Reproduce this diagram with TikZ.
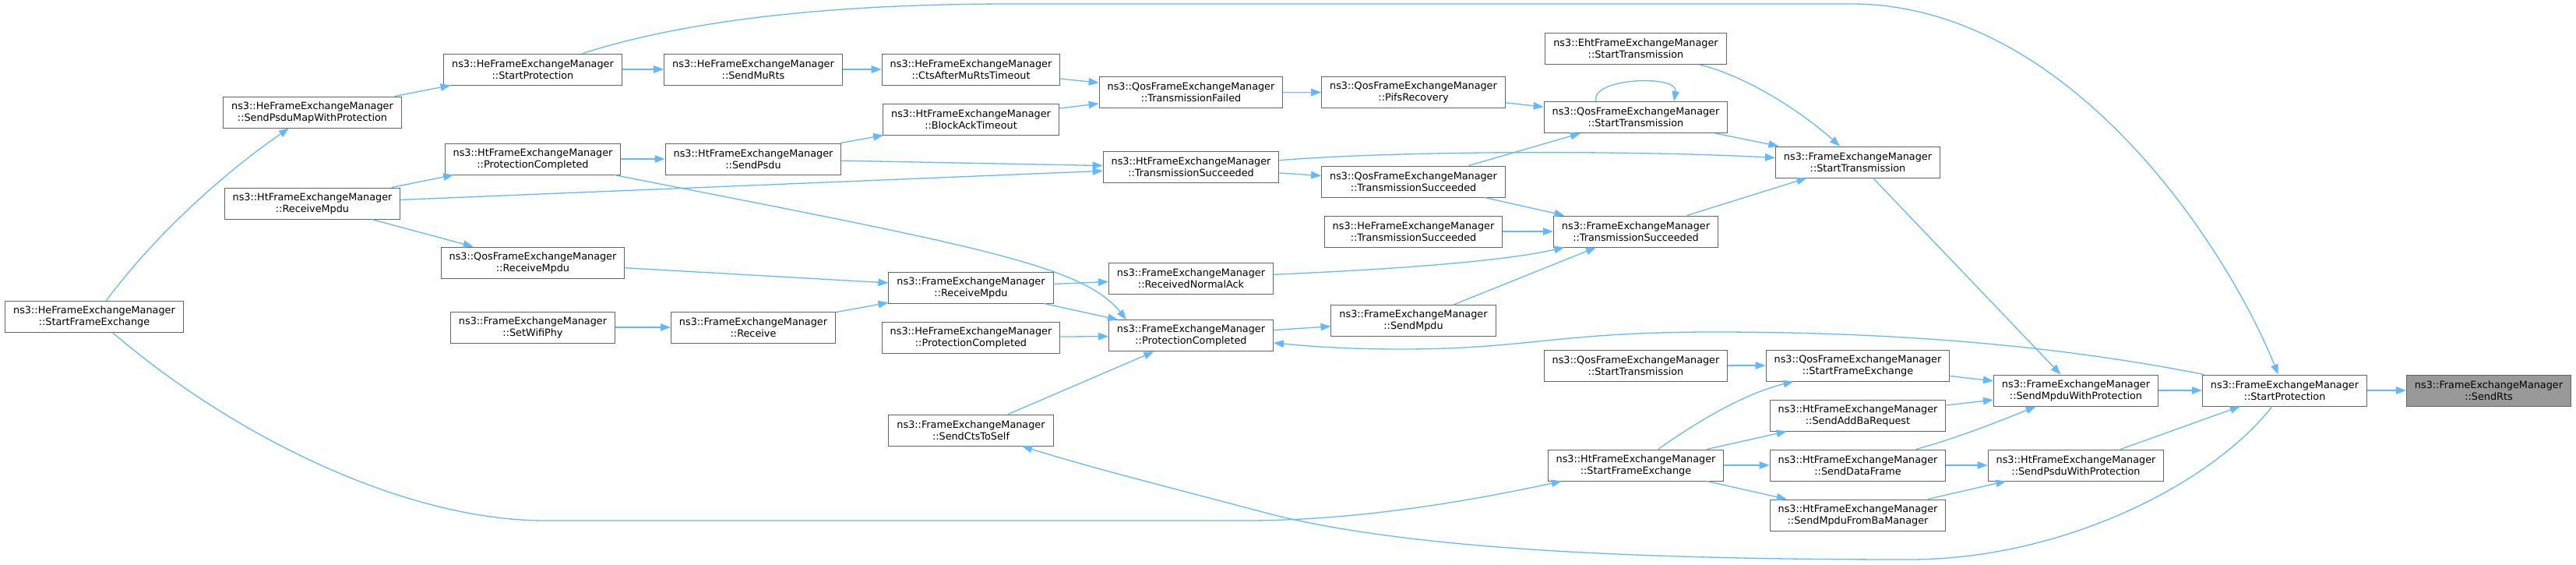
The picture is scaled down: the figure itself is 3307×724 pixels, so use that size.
\documentclass[tikz,border=0pt]{standalone}
\usepackage{fontspec}
\usepackage{xcolor}
\usetikzlibrary{arrows.meta}
\newfontfamily\dejavu{DejaVu Sans}
\definecolor{edgeblue}{HTML}{63B8FF}
\definecolor{boxgrey}{HTML}{666666}
\definecolor{rootgrey}{HTML}{999999}

\begin{document}
\begin{tikzpicture}[x=1pt, y=-1pt,
            fn/.style={draw=boxgrey, fill=white, line width=1pt, align=center, inner xsep=10.5pt, inner ysep=0pt, minimum height=40pt, font=\dejavu\fontsize{12.8}{15}\selectfont},
            root/.style={fn, fill=rootgrey},
            call/.style={draw=edgeblue, line width=1.3pt, -{Triangle[length=13pt,width=9.5pt]}}]
            \useasboundingbox (0,0) rectangle (3307,724);
            \node[root] (sendRts) at (3195,501) {ns3::FrameExchangeManager\\::SendRts};
            \node[fn] (startProt) at (2933,501) {ns3::FrameExchangeManager\\::StartProtection};
            \node[fn] (sendMpduProt) at (2665,501) {ns3::FrameExchangeManager\\::SendMpduWithProtection};
            \node[fn] (htSendPsduProt) at (2665,597) {ns3::HtFrameExchangeManager\\::SendPsduWithProtection};
            \node[fn] (startTx) at (2385,208) {ns3::FrameExchangeManager\\::StartTransmission};
            \node[fn] (qosStartFe) at (2385,469) {ns3::QosFrameExchangeManager\\::StartFrameExchange};
            \node[fn] (htSendAddBa) at (2385,533) {ns3::HtFrameExchangeManager\\::SendAddBaRequest};
            \node[fn] (htSendData) at (2385,597) {ns3::HtFrameExchangeManager\\::SendDataFrame};
            \node[fn] (htSendMpduBa) at (2385,661) {ns3::HtFrameExchangeManager\\::SendMpduFromBaManager};
            \node[fn] (ehtStartTx) at (2100,62.5) {ns3::EhtFrameExchangeManager\\::StartTransmission};
            \node[fn] (qosStartTx) at (2100,150.5) {ns3::QosFrameExchangeManager\\::StartTransmission};
            \node[fn] (txSucc) at (2100,297) {ns3::FrameExchangeManager\\::TransmissionSucceeded};
            \node[fn] (qosStartTxB) at (2100,469) {ns3::QosFrameExchangeManager\\::StartTransmission};
            \node[fn] (htStartFe) at (2100,597) {ns3::HtFrameExchangeManager\\::StartFrameExchange};
            \node[fn] (qosPifs) at (1814.5,118.5) {ns3::QosFrameExchangeManager\\::PifsRecovery};
            \node[fn] (qosTxSucc) at (1814.5,233) {ns3::QosFrameExchangeManager\\::TransmissionSucceeded};
            \node[fn] (heTxSucc) at (1814.5,297) {ns3::HeFrameExchangeManager\\::TransmissionSucceeded};
            \node[fn] (sendMpdu) at (1814.5,411.7) {ns3::FrameExchangeManager\\::SendMpdu};
            \node[fn] (qosTxFail) at (1529,118.5) {ns3::QosFrameExchangeManager\\::TransmissionFailed};
            \node[fn] (htTxSucc) at (1529,214.7) {ns3::HtFrameExchangeManager\\::TransmissionSucceeded};
            \node[fn] (rxNormalAck) at (1529,357) {ns3::FrameExchangeManager\\::ReceivedNormalAck};
            \node[fn] (protDone) at (1529,430.7) {ns3::FrameExchangeManager\\::ProtectionCompleted};
            \node[fn] (heCtsTimeout) at (1246.5,89) {ns3::HeFrameExchangeManager\\::CtsAfterMuRtsTimeout};
            \node[fn] (htBaTimeout) at (1246.5,153) {ns3::HtFrameExchangeManager\\::BlockAckTimeout};
            \node[fn] (rxMpdu) at (1246.5,369) {ns3::FrameExchangeManager\\::ReceiveMpdu};
            \node[fn] (heProtDone) at (1246.5,433) {ns3::HeFrameExchangeManager\\::ProtectionCompleted};
            \node[fn] (sendCts) at (1246.5,552) {ns3::FrameExchangeManager\\::SendCtsToSelf};
            \node[fn] (heSendMuRts) at (967,89) {ns3::HeFrameExchangeManager\\::SendMuRts};
            \node[fn] (htSendPsdu) at (967,204) {ns3::HtFrameExchangeManager\\::SendPsdu};
            \node[fn] (receive) at (967,420) {ns3::FrameExchangeManager\\::Receive};
            \node[fn] (heStartProt) at (684,89) {ns3::HeFrameExchangeManager\\::StartProtection};
            \node[fn] (htProtDone) at (684,204) {ns3::HtFrameExchangeManager\\::ProtectionCompleted};
            \node[fn] (qosRxMpdu) at (684,337) {ns3::QosFrameExchangeManager\\::ReceiveMpdu};
            \node[fn] (setPhy) at (684,420) {ns3::FrameExchangeManager\\::SetWifiPhy};
            \node[fn] (heSendPsduMap) at (401,144) {ns3::HeFrameExchangeManager\\::SendPsduMapWithProtection};
            \node[fn] (htRxMpdu) at (401,261) {ns3::HtFrameExchangeManager\\::ReceiveMpdu};
            \node[fn] (heStartFe) at (121,406.5) {ns3::HeFrameExchangeManager\\::StartFrameExchange};
            \draw[call] (startProt) -- (sendRts);
            \draw[call] (sendMpduProt) -- (startProt);
            \draw[call] (htSendPsduProt) -- (startProt);
            \draw[call] (heStartProt) .. controls (900,20) and (1100,5) .. (1300,5) -- (2380,5) .. controls (2660,8) and (2860,320) .. (startProt);
            \draw[call] (startProt) .. controls (2840,620) and (2650,718) .. (2450,718) .. controls (2050,718) and (1800,700) .. (1640,662) .. controls (1500,625) and (1400,600) .. (sendCts);
            \draw[call] (heStartFe) .. controls (300,560) and (520,668) .. (700,668) -- (1600,668) .. controls (1750,668) and (1900,640) .. (htStartFe);
            \draw[call] (heStartFe) .. controls (200,300) and (290,220) .. (heSendPsduMap);
            \draw[call] (heSendPsduMap) -- (heStartProt);
            \draw[call] (heStartProt) -- (heSendMuRts);
            \draw[call] (heSendMuRts) -- (heCtsTimeout);
            \draw[call] (heCtsTimeout) -- (qosTxFail);
            \draw[call] (htBaTimeout) -- (qosTxFail);
            \draw[call] (qosTxFail) -- (qosPifs);
            \draw[call] (qosPifs) -- (qosStartTx);
            \draw[call] ([xshift=-51pt]qosStartTx.north) .. controls (2040,100) and (2155,95) .. ([xshift=49pt]qosStartTx.north);
            \draw[call] (qosStartTx) -- (startTx);
            \draw[call] (ehtStartTx) .. controls (2250,100) and (2320,150) .. (startTx);
            \draw[call] (txSucc) -- (startTx);
            \draw[call] (htTxSucc) .. controls (1800,193) and (2100,193) .. (startTx);
            \draw[call] (startTx) -- (sendMpduProt);
            \draw[call] (htSendPsdu) -- (htBaTimeout);
            \draw[call] (htSendPsdu) -- (htTxSucc);
            \draw[call] (htProtDone) -- (htSendPsdu);
            \draw[call] (htRxMpdu) -- (htProtDone);
            \draw[call] (htRxMpdu) -- (htTxSucc);
            \draw[call] (htRxMpdu) -- (qosRxMpdu);
            \draw[call] (htProtDone) .. controls (1250,315) and (1390,340) .. ([xshift=-83pt]protDone.north);
            \draw[call] (htTxSucc) -- (qosTxSucc);
            \draw[call] (qosTxSucc) -- (qosStartTx);
            \draw[call] (qosTxSucc) -- (txSucc);
            \draw[call] (heTxSucc) -- (txSucc);
            \draw[call] (rxNormalAck) .. controls (1800,345) and (1930,335) .. (txSucc);
            \draw[call] (sendMpdu) -- (txSucc);
            \draw[call] (rxMpdu) -- (rxNormalAck);
            \draw[call] (rxMpdu) -- (protDone);
            \draw[call] (qosRxMpdu) -- (rxMpdu);
            \draw[call] (receive) -- (rxMpdu);
            \draw[call] (setPhy) -- (receive);
            \draw[call] (heProtDone) -- (protDone);
            \draw[call] (sendCts) -- (protDone);
            \draw[call] (protDone) -- (sendMpdu);
            \draw[call] (startProt) .. controls (2700,455) and (2500,426) .. (2200,426) .. controls (2000,426) and (1960,448) .. (1800,448) .. controls (1720,448) and (1680,444) .. (protDone);
            \draw[call] (qosStartFe) -- (sendMpduProt);
            \draw[call] (htSendAddBa) -- (sendMpduProt);
            \draw[call] (htSendData) .. controls (2520,560) and (2580,535) .. (sendMpduProt);
            \draw[call] (htSendData) -- (htSendPsduProt);
            \draw[call] (htSendMpduBa) -- (htSendPsduProt);
            \draw[call] (qosStartTxB) -- (qosStartFe);
            \draw[call] (htStartFe) .. controls (2180,540) and (2240,505) .. (qosStartFe);
            \draw[call] (htStartFe) -- (htSendAddBa);
            \draw[call] (htStartFe) -- (htSendData);
            \draw[call] (htStartFe) -- (htSendMpduBa);
        \end{tikzpicture}
\end{document}
